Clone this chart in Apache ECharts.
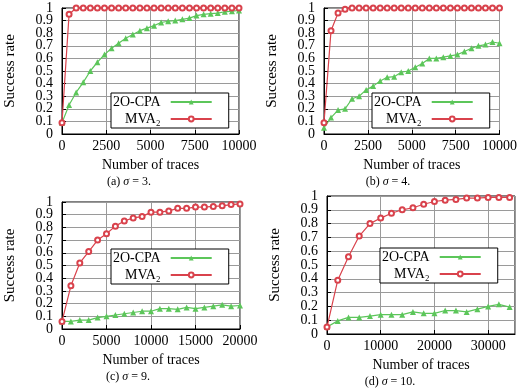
<!DOCTYPE html>
<html>
<head>
<meta charset="utf-8">
<script src="https://cdn.jsdelivr.net/npm/echarts@6/dist/echarts.min.js"></script>
<style>
  html, body { margin: 0; padding: 0; background: #fff; }
  #chart { width: 520px; height: 391px; }
</style>
</head>
<body>
<div id="chart"></div>
<script>
// number of traces (x) per panel
const traces10k = [0, 400, 800, 1200, 1600, 2000, 2400, 2800, 3200, 3600, 4000, 4400, 4800,
  5200, 5600, 6000, 6400, 6800, 7200, 7600, 8000, 8400, 8800, 9200, 9600, 10000];
const traces20k = [0, 1000, 2000, 3000, 4000, 5000, 6000, 7000, 8000, 9000, 10000,
  11000, 12000, 13000, 14000, 15000, 16000, 17000, 18000, 19000, 20000];
const traces34k = [0, 2000, 4000, 6000, 8000, 10000, 12000, 14000, 16000, 18000,
  20000, 22000, 24000, 26000, 28000, 30000, 32000, 34000];

// success rates, sigma = 3
const cpaSigma3 = [0.09, 0.23, 0.33, 0.41, 0.50, 0.57, 0.63, 0.68, 0.72, 0.76, 0.79, 0.82, 0.84,
  0.86, 0.885, 0.895, 0.90, 0.91, 0.92, 0.94, 0.95, 0.955, 0.96, 0.97, 0.975, 0.98];
const mvaSigma3 = [0.09, 0.95, 1, 1, 1, 1, 1, 1, 1, 1, 1, 1, 1,
  1, 1, 1, 1, 1, 1, 1, 1, 1, 1, 1, 1, 1];
// sigma = 4
const cpaSigma4 = [0.05, 0.13, 0.19, 0.20, 0.28, 0.30, 0.35, 0.38, 0.42, 0.45, 0.455, 0.49, 0.50,
  0.53, 0.56, 0.60, 0.60, 0.61, 0.62, 0.63, 0.655, 0.68, 0.70, 0.71, 0.73, 0.72];
const mvaSigma4 = [0.09, 0.82, 0.96, 0.99, 1, 1, 1, 1, 1, 1, 1, 1, 1,
  1, 1, 1, 1, 1, 1, 1, 1, 1, 1, 1, 1, 1];
// sigma = 9
const cpaSigma9 = [0.06, 0.06, 0.07, 0.07, 0.09, 0.10, 0.11, 0.12, 0.13, 0.14, 0.14,
  0.16, 0.16, 0.155, 0.17, 0.16, 0.17, 0.18, 0.19, 0.18, 0.185];
const mvaSigma9 = [0.06, 0.34, 0.52, 0.61, 0.70, 0.75, 0.81, 0.85, 0.875, 0.885, 0.92,
  0.92, 0.93, 0.95, 0.95, 0.96, 0.96, 0.965, 0.97, 0.98, 0.985];
// sigma = 10
const cpaSigma10 = [0.05, 0.095, 0.12, 0.12, 0.13, 0.14, 0.14, 0.14, 0.16, 0.15,
  0.15, 0.17, 0.17, 0.16, 0.18, 0.20, 0.215, 0.195];
const mvaSigma10 = [0.05, 0.39, 0.56, 0.71, 0.80, 0.84, 0.875, 0.90, 0.915, 0.94,
  0.96, 0.97, 0.975, 0.985, 0.985, 0.99, 0.99, 0.99];

// y tick labels; the ones next to the ends go on an overlay axis so
// echarts' min/max overlap check doesn't drop them
const yTicksMain = ['0', '0.2', '0.3', '0.4', '0.5', '0.6', '0.7', '0.8', '1'];
const yTicksEdge = ['0.1', '0.9'];

const seriesNames = ['2O-CPA', 'MVA₂'];
const captions = ['(a) {i|σ} = 3.', '(b) {i|σ} = 4.', '(c) {i|σ} = 9.', '(d) {i|σ} = 10.'];

const FONT = 'Liberation Serif';
const GREEN = '#5cc65a';
const RED = '#d9424c';

// panel layout: plot rect, x range, legend box, caption position
const panels = [
  { grid: [62, 8, 177, 126], xMax: 10000, xStep: 2500, x: traces10k, cpa: cpaSigma3, mva: mvaSigma3, legend: [111, 93], cap: [129, 176] },
  { grid: [324, 8, 177, 126], xMax: 10000, xStep: 2500, x: traces10k, cpa: cpaSigma4, mva: mvaSigma4, legend: [372, 93], cap: [388, 176] },
  { grid: [62, 202, 178, 127], xMax: 20000, xStep: 5000, x: traces20k, cpa: cpaSigma9, mva: mvaSigma9, legend: [111, 249], cap: [128, 371] },
  { grid: [327, 196, 188, 138], xMax: 35000, xStep: 10000, x: traces34k, cpa: cpaSigma10, mva: mvaSigma10, legend: [380, 248], cap: [390, 376] }
];

const pair = (xs, ys) => xs.map((x, i) => [x, ys[i]]);
const pick = list => v => {
  const s = String(Math.round(v * 10) / 10);
  return list.indexOf(s) >= 0 ? s : '';
};

const grid = [], xAxis = [], yAxis = [], series = [], legend = [], graphic = [];
const labelFont = { fontFamily: FONT, fontSize: 14, color: '#000' };

panels.forEach((p, i) => {
  grid.push({
    left: p.grid[0], top: p.grid[1], width: p.grid[2], height: p.grid[3],
    show: true, borderColor: '#000', borderWidth: 1, backgroundColor: 'transparent'
  });
  xAxis.push({
    gridIndex: i, type: 'value', min: 0, max: p.xMax, interval: p.xStep,
    name: 'Number of traces', nameLocation: 'middle', nameGap: 24,
    nameTextStyle: labelFont,
    axisLine: { show: true, lineStyle: { color: '#000' } },
    axisTick: { show: true, inside: true, length: 4, lineStyle: { color: '#000' } },
    axisLabel: Object.assign({
      margin: 5, showMinLabel: true, showMaxLabel: p.xMax % p.xStep === 0,
      formatter: v => String(v)
    }, labelFont),
    splitLine: { show: true, lineStyle: { color: '#9a9a9a', width: 1 } }
  });
  yAxis.push({
    gridIndex: i, type: 'value', position: 'left', min: 0, max: 1, interval: 0.1,
    name: 'Success rate', nameLocation: 'middle', nameGap: 44,
    nameTextStyle: Object.assign({}, labelFont, { fontSize: 15 }),
    axisLine: { show: true, lineStyle: { color: '#000' } },
    axisTick: { show: true, inside: true, length: 4, lineStyle: { color: '#000' } },
    axisLabel: Object.assign({
      margin: 9, showMinLabel: true, showMaxLabel: true, formatter: pick(yTicksMain)
    }, labelFont),
    splitLine: { show: true, lineStyle: { color: '#9a9a9a', width: 1 } }
  });
  yAxis.push({
    gridIndex: i, type: 'value', position: 'left', offset: 0, min: 0, max: 1, interval: 0.1,
    axisLine: { show: false }, axisTick: { show: false }, splitLine: { show: false },
    axisLabel: Object.assign({
      margin: 9, showMinLabel: false, showMaxLabel: false, formatter: pick(yTicksEdge)
    }, labelFont)
  });
  series.push({
    name: seriesNames[0], type: 'line', xAxisIndex: i, yAxisIndex: 2 * i,
    data: pair(p.x, p.cpa), symbol: 'triangle', symbolSize: 6,
    lineStyle: { color: GREEN, width: 1.2 }, itemStyle: { color: GREEN },
    animation: false, z: 3
  });
  series.push({
    name: seriesNames[1], type: 'line', xAxisIndex: i, yAxisIndex: 2 * i,
    data: pair(p.x, p.mva), symbol: 'emptyCircle', symbolSize: 5,
    lineStyle: { color: RED, width: 1.2 }, itemStyle: { color: RED, borderWidth: 1 },
    animation: false, z: 4
  });
  legend.push({
    data: seriesNames, orient: 'vertical', align: 'right',
    left: p.legend[0], top: p.legend[1],
    itemWidth: 41, itemHeight: 6, itemGap: 3,
    padding: [2, 16, 2, 2],
    backgroundColor: '#fff', borderColor: '#000', borderWidth: 1,
    selectedMode: false,
    formatter: name => '{t|' + name + '}',
    textStyle: Object.assign({
      rich: { t: { fontFamily: FONT, fontSize: 14, color: '#000', padding: [0, 5, 0, 0] } }
    }, labelFont)
  });
  graphic.push({
    type: 'text', x: p.cap[0], y: p.cap[1],
    style: {
      text: captions[i], fill: '#000', font: '12px "' + FONT + '"', align: 'center',
      rich: { i: { fontFamily: FONT, fontSize: 12, fontStyle: 'italic', fill: '#000' } }
    }
  });
});

const chart = echarts.init(document.getElementById('chart'), null, { renderer: 'canvas' });
chart.setOption({
  animation: false,
  backgroundColor: '#fff',
  textStyle: { fontFamily: FONT },
  grid, xAxis, yAxis, series, legend, graphic
});
</script>
</body>
</html>
